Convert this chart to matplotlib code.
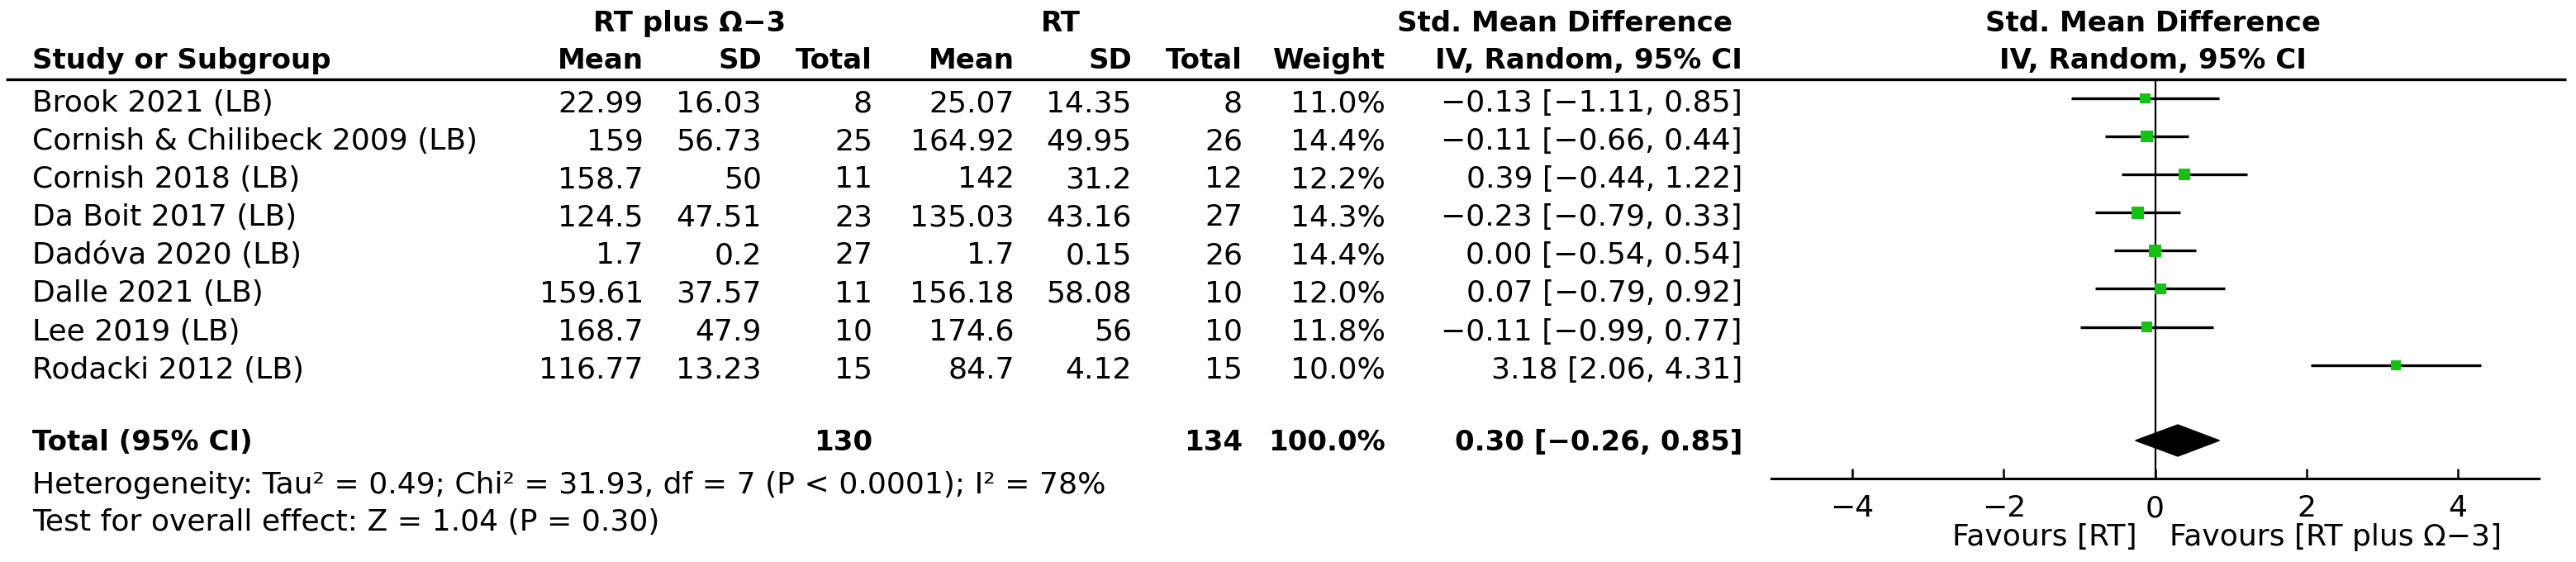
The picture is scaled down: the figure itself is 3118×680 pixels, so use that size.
import numpy as np
import matplotlib
matplotlib.use("Agg")
import matplotlib.pyplot as plt
from matplotlib.patches import Polygon

# Datos del forest plot
estudios = ["Brook 2021 (LB)", "Cornish & Chilibeck 2009 (LB)", "Cornish 2018 (LB)",
            "Da Boit 2017 (LB)", "Dadóva 2020 (LB)", "Dalle 2021 (LB)",
            "Lee 2019 (LB)", "Rodacki 2012 (LB)"]
mediaExp = [22.99, 159, 158.7, 124.5, 1.7, 159.61, 168.7, 116.77]
sdExp = [16.03, 56.73, 50, 47.51, 0.2, 37.57, 47.9, 13.23]
nExp = [8, 25, 11, 23, 27, 11, 10, 15]
mediaCtl = [25.07, 164.92, 142, 135.03, 1.7, 156.18, 174.6, 84.7]
sdCtl = [14.35, 49.95, 31.2, 43.16, 0.15, 58.08, 56, 4.12]
nCtl = [8, 26, 12, 27, 26, 10, 10, 15]
peso = [11.0, 14.4, 12.2, 14.3, 14.4, 12.0, 11.8, 10.0]
smd = [-0.13, -0.11, 0.39, -0.23, 0.00, 0.07, -0.11, 3.18]
ciBajo = [-1.11, -0.66, -0.44, -0.79, -0.54, -0.79, -0.99, 2.06]
ciAlto = [0.85, 0.44, 1.22, 0.33, 0.54, 0.92, 0.77, 4.31]
totalExp, totalCtl, pesoTotal = 130, 134, 100.0
smdTotal, ciTotalBajo, ciTotalAlto = 0.30, -0.26, 0.85
heterogeneidad = "Heterogeneity: Tau² = 0.49; Chi² = 31.93, df = 7 (P < 0.0001); I² = 78%"
efectoGlobal = "Test for overall effect: Z = 1.04 (P = 0.30)"
ticks = [-4, -2, 0, 2, 4]

W, H = 3118, 680
fs = 26        # texto normal
fsB = 24.5     # texto en negrita
verde = "#12c412"

def fmt(v):
    return f"{v:g}"

def ci_txt(e, lo, hi):
    return f"{e:.2f} [{lo:.2f}, {hi:.2f}]".replace("-", "\u2212")

fig = plt.figure(figsize=(W / 100, H / 100), dpi=100)
ax = fig.add_axes([0, 0, 1, 1])
ax.set_xlim(0, W)
ax.set_ylim(H, 0)
ax.axis("off")

def txt(x, y, s, ha="right", bold=False):
    ax.text(x, y, s, ha=ha, va="baseline", fontsize=fsB if bold else fs,
            fontweight="bold" if bold else "normal", color="black")

# Encabezados
txt(835, 38, "RT plus Ω\u22123", ha="center", bold=True)
txt(1284, 38, "RT", ha="center", bold=True)
txt(1894, 38, "Std. Mean Difference", ha="center", bold=True)
txt(2606, 38, "Std. Mean Difference", ha="center", bold=True)
txt(39, 83, "Study or Subgroup", ha="left", bold=True)
colX = [779, 922, 1056, 1228, 1370, 1504, 1677]
for x, h in zip(colX, ["Mean", "SD", "Total", "Mean", "SD", "Total", "Weight"]):
    txt(x, 83, h, bold=True)
txt(2109, 83, "IV, Random, 95% CI", bold=True)
txt(2606, 83, "IV, Random, 95% CI", ha="center", bold=True)
ax.plot([7, 3106], [96, 96], color="black", lw=2.4, solid_capstyle="butt")

# Filas de estudios
paso = 46.1
bases = [135 + paso * i for i in range(len(estudios))]
for i, b in enumerate(bases):
    txt(39, b, estudios[i], ha="left")
    vals = [fmt(mediaExp[i]), fmt(sdExp[i]), str(nExp[i]),
            fmt(mediaCtl[i]), fmt(sdCtl[i]), str(nCtl[i]), f"{peso[i]:.1f}%"]
    for x, v in zip(colX, vals):
        txt(x, b, v)
    txt(2109, b, ci_txt(smd[i], ciBajo[i], ciAlto[i]))

# Total
baseTotal = 545
txt(39, baseTotal, "Total (95% CI)", ha="left", bold=True)
txt(colX[2], baseTotal, str(totalExp), bold=True)
txt(colX[5], baseTotal, str(totalCtl), bold=True)
txt(colX[6], baseTotal, f"{pesoTotal:.1f}%", bold=True)
txt(2109, baseTotal, ci_txt(smdTotal, ciTotalBajo, ciTotalAlto), bold=True)
txt(39, 597, heterogeneidad, ha="left")
txt(39, 642, efectoGlobal, ha="left")

# Favours
txt(2587, 660, "Favours [RT]")
txt(2626, 660, "Favours [RT plus Ω\u22123]", ha="left")

# Panel del forest plot
x0, x1, yTop, yAxis = 2144, 3073, 96, 579
ax2 = fig.add_axes([x0 / W, 1 - yAxis / H, (x1 - x0) / W, (yAxis - yTop) / H])
ax2.patch.set_alpha(0)
ax2.set_xlim(-5.07, 5.07)
ax2.set_ylim(yAxis, yTop)
for s in ["top", "left", "right"]:
    ax2.spines[s].set_visible(False)
ax2.spines["bottom"].set_linewidth(2.2)
ax2.set_yticks([])
ax2.set_xticks(ticks)
ax2.tick_params(axis="x", direction="in", length=9, width=1.8, pad=14, labelsize=fs)
ax2.axvline(0, color="black", lw=1.6, zorder=1)

ys = [b - 16 for b in bases]
ax2.hlines(ys, ciBajo, ciAlto, color="black", lw=2.4, zorder=2)
lados = [3.9 * np.sqrt(p) * 0.72 for p in peso]
ax2.scatter(smd, ys, s=[l ** 2 for l in lados], marker="s", color=verde,
            linewidths=0, zorder=3, clip_on=False)

yc = baseTotal - 12
diamante = Polygon([[ciTotalBajo, yc], [smdTotal, yc - 19], [ciTotalAlto, yc], [smdTotal, yc + 19]],
                   closed=True, color="black", zorder=4)
ax2.add_patch(diamante)

fig.savefig("out.png", dpi=100)
